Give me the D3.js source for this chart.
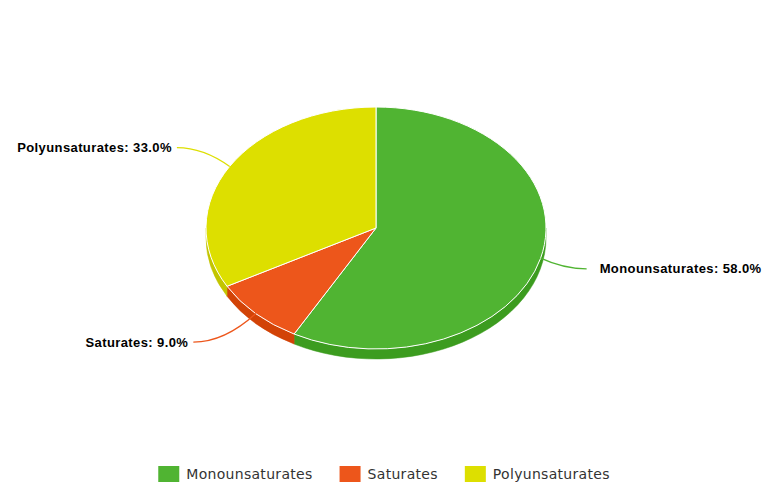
<!DOCTYPE html>
<html><head><meta charset="utf-8">
<script src="https://cdn.jsdelivr.net/npm/d3@7/dist/d3.min.js"></script>
<style>body{margin:0;background:#fff}svg{display:block}</style>
</head><body>
<svg id="c" width="768" height="495"></svg>
<script>
const categories = ["Monounsaturates", "Saturates", "Polyunsaturates"];
const values = [58.0, 9.0, 33.0];
const colors = ["#50B432", "#ED561B", "#DDDF00"];
const sideColors = ["#3C9C1F", "#D24307", "#C3C500"];

const svg = d3.select("#c");
const W = 768, H = 495;
const cx = 376, cy = 228, rx = 170, ry = 121, depth = 10;

const pie = d3.pie().sort(null).value(d => d.v);
const data = pie(categories.map((c, i) => ({ c, v: values[i], i })));

const P = (t, dy = 0) => [cx + rx * Math.sin(t), cy - ry * Math.cos(t) + dy];

// sides
const gSide = svg.append("g");
data.forEach(d => {
  const s = Math.max(d.startAngle, Math.PI / 2), e = Math.min(d.endAngle, 3 * Math.PI / 2);
  if (s >= e) return;
  const a = P(s), b = P(e), a2 = P(s, depth), b2 = P(e, depth);
  const large = (e - s) > Math.PI ? 1 : 0;
  const p = `M${a}A${rx},${ry} 0 ${large} 1 ${b}L${b2}A${rx},${ry} 0 ${large} 0 ${a2}Z`;
  gSide.append("path").attr("d", p).attr("fill", sideColors[d.data.i])
    .attr("stroke", sideColors[d.data.i]).attr("stroke-width", 0.5);
});

// tops
const gTop = svg.append("g");
data.forEach(d => {
  const a = P(d.startAngle), b = P(d.endAngle);
  const large = (d.endAngle - d.startAngle) > Math.PI ? 1 : 0;
  const p = `M${cx},${cy}L${a}A${rx},${ry} 0 ${large} 1 ${b}Z`;
  gTop.append("path").attr("d", p).attr("fill", colors[d.data.i])
    .attr("stroke", "#fff").attr("stroke-width", 1).attr("stroke-linejoin", "round");
});

// labels
const gLab = svg.append("g");
data.forEach(d => {
  const m = (d.startAngle + d.endAngle) / 2;
  const right = Math.sin(m) >= 0;
  const sign = right ? 1 : -1;
  const pt = P(m);
  const ly = cy + 1 - 160 * Math.cos(m);
  const ex = cx + sign * (rx + 107 * Math.abs(Math.sin(m)) - 63);
  const ctlx = (ex + pt[0]) / 2;
  gLab.append("path")
    .attr("d", `M${ex},${ly}Q${ctlx},${ly} ${pt}`)
    .attr("fill", "none").attr("stroke", colors[d.data.i]).attr("stroke-width", 1.2);
  gLab.append("text")
    .attr("x", ex + sign * (right ? 13 : 5)).attr("y", ly).attr("dy", "0.35em")
    .attr("text-anchor", right ? "start" : "end")
    .attr("font-family", "Liberation Sans, Arial, sans-serif")
    .attr("font-size", 13).attr("font-weight", "bold")
    .attr("letter-spacing", "0.4px")
    .attr("fill", "#000")
    .text(`${d.data.c}: ${d.data.v.toFixed(1)}%`);
});

// legend
const gLeg = svg.append("g");
const items = categories.map((c, i) => {
  const g = gLeg.append("g");
  g.append("rect").attr("x", 0).attr("y", -8).attr("width", 21).attr("height", 16).attr("fill", colors[i]);
  const t = g.append("text").attr("x", 28).attr("y", 0).attr("dy", "0.36em")
    .attr("font-family", "DejaVu Sans, sans-serif").attr("font-size", 14).attr("fill", "#333")
    .attr("letter-spacing", "0.3px")
    .text(c);
  return { g, w: 28 + t.node().getComputedTextLength() };
});
const gap = 27;
const total = d3.sum(items, d => d.w) + gap * (items.length - 1);
let x0 = W / 2 - total / 2;
items.forEach(it => { it.g.attr("transform", `translate(${x0},474)`); x0 += it.w + gap; });
</script>
</body></html>
